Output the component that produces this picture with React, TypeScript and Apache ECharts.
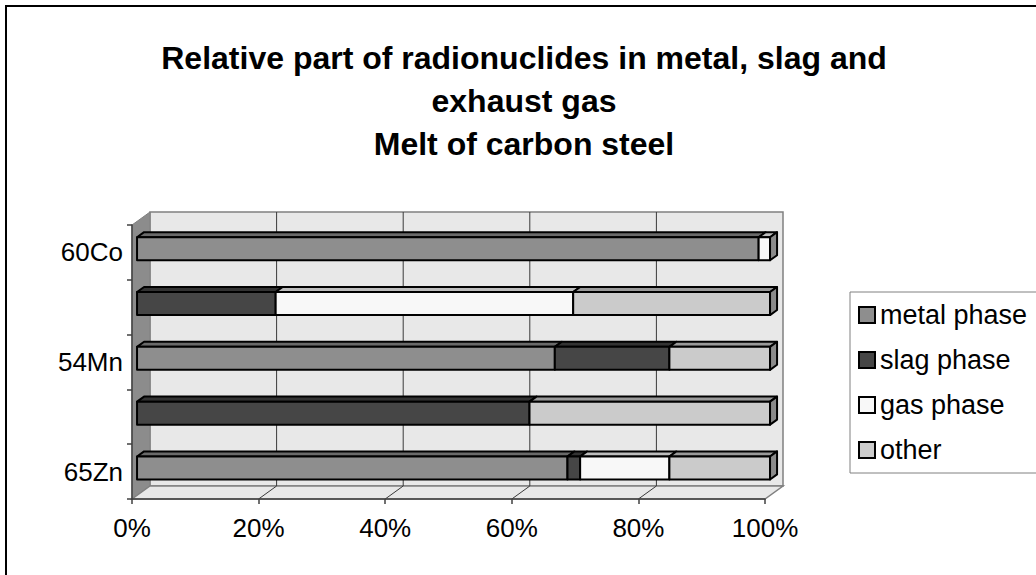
import React, { useEffect, useRef } from "react";
import * as echarts from "echarts";

const categories = ["65Zn", "", "54Mn", " ", "60Co"];
const seriesNames = ["metal phase", "slag phase", "gas phase", "other"];
const metal = [68.0, 0, 66.0, 0, 98.2];
const slag = [2.0, 62.0, 18.1, 21.9, 0];
const gas = [14.1, 0, 0, 47.0, 1.8];
const other = [15.9, 38.0, 15.9, 31.1, 0];
const xTicks = [0, 20, 40, 60, 80, 100];

const frontColors = ["#8e8e8e", "#464646", "#f8f8f8", "#cbcbcb"];
const topColors = ["#6a6a6a", "#333333", "#bdbdbd", "#9a9a9a"];
const sideColors = ["#5e5e5e", "#2a2a2a", "#8a8a8a", "#8a8a8a"];

const DX = 18;
const DY = -13;
const F1 = 0.28;
const F2 = 0.67;
const FONT = "Arial, 'Liberation Sans', sans-serif";

export default function App() {
  const ref = useRef<HTMLDivElement>(null);
  useEffect(() => {
    if (!ref.current) return;
    const chart = echarts.init(ref.current, undefined, { renderer: "svg" });
    const all = [metal, slag, gas, other];
    const lastIdx = categories.map((_, c) => {
      let li = -1;
      all.forEach((arr, s) => {
        if (arr[c] > 0) li = s;
      });
      return li;
    });
    const cum = categories.map(() => 0);
    const barSeries = all.map((arr, s) => {
      const data = arr.map((v, c) => {
        const start = cum[c];
        cum[c] += v;
        return [c, start, start + v, lastIdx[c] === s ? 1 : 0];
      });
      return {
        type: "custom",
        name: seriesNames[s],
        z: 3,
        itemStyle: { color: frontColors[s], borderColor: "#000", borderWidth: 2 },
        encode: { x: [1, 2], y: 0 },
        data,
        renderItem: (params: any, api: any) => {
          const cat = api.value(0);
          const start = api.value(1);
          const end = api.value(2);
          const isLast = api.value(3);
          if (end - start <= 0) return { type: "group", children: [] };
          const p0 = api.coord([start, cat]);
          const p1 = api.coord([end, cat]);
          const band = api.size([0, 1])[1];
          const h = band * 0.42;
          const ox = DX * F1, oy = DY * F1;
          const dx = DX * (F2 - F1), dy = DY * (F2 - F1);
          const x0 = p0[0] + ox, x1 = p1[0] + ox;
          const yT = p0[1] + oy - h / 2, yB = yT + h;
          const st = { stroke: "#000", lineWidth: 2, lineJoin: "round" };
          const children: any[] = [
            {
              type: "polygon",
              shape: { points: [[x0, yT], [x0 + dx, yT + dy], [x1 + dx, yT + dy], [x1, yT]] },
              style: { ...st, fill: topColors[s] },
            },
            {
              type: "rect",
              shape: { x: x0, y: yT, width: x1 - x0, height: h },
              style: { ...st, fill: frontColors[s] },
            },
          ];
          if (isLast) {
            children.push({
              type: "polygon",
              shape: { points: [[x1, yT], [x1 + dx, yT + dy], [x1 + dx, yB + dy], [x1, yB]] },
              style: { ...st, fill: sideColors[s] },
            });
          }
          return { type: "group", children };
        },
      };
    });

    const wallSeries = {
      type: "custom",
      name: "walls",
      z: 1,
      silent: true,
      data: [[0, 0]],
      encode: { x: 0, y: 1 },
      renderItem: (params: any, api: any) => {
        const cs = params.coordSys;
        const X0 = cs.x, X1 = cs.x + cs.width, Y0 = cs.y, Y1 = cs.y + cs.height;
        const grey = "#808080";
        const children: any[] = [
          {
            type: "rect",
            shape: { x: X0 + DX, y: Y0 + DY, width: X1 - X0, height: Y1 - Y0 },
            style: { fill: "#e8e8e8", stroke: grey, lineWidth: 1.5 },
          },
          {
            type: "polygon",
            shape: { points: [[X0, Y0], [X0 + DX, Y0 + DY], [X0 + DX, Y1 + DY], [X0, Y1]] },
            style: { fill: "#8c8c8c", stroke: grey, lineWidth: 1 },
          },
          {
            type: "polygon",
            shape: { points: [[X0, Y1], [X0 + DX, Y1 + DY], [X1 + DX, Y1 + DY], [X1, Y1]] },
            style: { fill: "#e8e8e8", stroke: grey, lineWidth: 1.5 },
          },
        ];
        xTicks.slice(1, -1).forEach((t) => {
          const xf = api.coord([t, 0])[0];
          children.push({
            type: "line",
            shape: { x1: xf + DX, y1: Y0 + DY, x2: xf + DX, y2: Y1 + DY },
            style: { stroke: "#3a3a3a", lineWidth: 1 },
          });
          children.push({
            type: "line",
            shape: { x1: xf + DX, y1: Y1 + DY, x2: xf, y2: Y1 },
            style: { stroke: "#3a3a3a", lineWidth: 1 },
          });
        });
        return { type: "group", children };
      },
    };

    chart.setOption({
      animation: false,
      backgroundColor: "#ffffff",
      title: {
        text: "Relative part of radionuclides in metal, slag and\nexhaust gas\nMelt of carbon steel",
        left: 519,
        top: 31,
        textAlign: "center",
        textStyle: {
          fontFamily: FONT,
          fontWeight: "bold",
          fontSize: 32,
          lineHeight: 43,
          color: "#000",
        },
      },
      graphic: [
        {
          type: "rect",
          shape: { x: 6, y: 6, width: 1100, height: 700 },
          style: { fill: "none", stroke: "#000", lineWidth: 2 },
          silent: true,
          z: 100,
        },
      ],
      legend: {
        orient: "vertical",
        left: 850,
        top: 292,
        itemWidth: 16,
        itemHeight: 16,
        itemGap: 15,
        padding: [8, 10, 8, 8],
        borderColor: "#808080",
        borderWidth: 1,
        backgroundColor: "#ffffff",
        textStyle: { fontFamily: FONT, fontSize: 27, lineHeight: 30, color: "#000" },
        data: seriesNames.map((n, i) => ({
          name: n,
          icon: "rect",
          itemStyle: { color: frontColors[i], borderColor: "#000", borderWidth: 2 },
        })),
      },
      grid: { left: 132, right: 271, top: 225, bottom: 76 },
      xAxis: {
        type: "value",
        min: 0,
        max: 100,
        interval: 20,
        z: 5,
        axisLine: { show: true, lineStyle: { color: "#404040", width: 1.5 } },
        axisTick: { show: true, length: 5, lineStyle: { color: "#404040", width: 1.5 } },
        splitLine: { show: false },
        axisLabel: {
          formatter: "{value}%",
          fontFamily: FONT,
          fontSize: 26,
          color: "#000",
          margin: 16,
        },
      },
      yAxis: {
        type: "category",
        data: categories,
        z: 5,
        axisLine: { show: true, lineStyle: { color: "#404040", width: 1.5 } },
        axisTick: { show: true, length: 5, lineStyle: { color: "#404040", width: 1.5 } },
        splitLine: { show: false },
        axisLabel: {
          interval: 0,
          fontFamily: FONT,
          fontSize: 26,
          color: "#000",
          margin: 9,
        },
      },
      series: [wallSeries, ...barSeries],
    });
    return () => chart.dispose();
  }, []);
  return (
    <div
      ref={ref}
      style={{ position: "fixed", left: 0, top: 0, width: 1036, height: 575 }}
    />
  );
}
